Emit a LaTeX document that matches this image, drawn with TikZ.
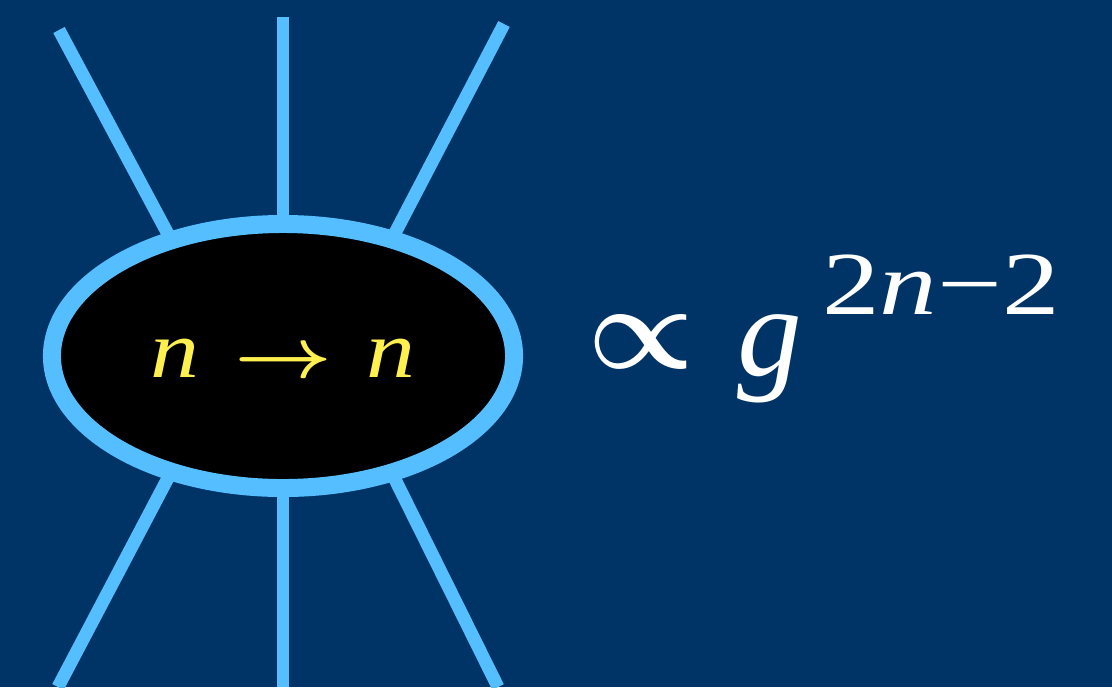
\RequirePackage{fix-cm}
\documentclass[tikz,border=0pt]{standalone}
\usepackage{amsmath}
\usepackage{fontspec}
\setmainfont{Liberation Serif}
\usepackage{graphicx}
\usetikzlibrary{shapes.geometric}
\definecolor{bgblue}{RGB}{0,51,102}
\definecolor{legblue}{RGB}{85,190,255}
\definecolor{labyellow}{RGB}{255,240,80}
\pgfdeclarelayer{bg}
\pgfsetlayers{bg,main}

\begin{document}
\begin{tikzpicture}[
  x=0.025cm, y=-0.025cm,
  leg/.style={draw=legblue, line width=9.2pt},
  blob/.style={ellipse, draw=legblue, fill=black, line width=12.8pt, inner sep=0pt, outer sep=0pt,
               minimum width=11.55cm, minimum height=6.6cm},
  lab/.style={text=labyellow, font=\fontsize{58}{64}\selectfont},
  formula/.style={text=white, inner sep=0pt, anchor=base west}
]
\useasboundingbox (0,0) rectangle (1112,687);
\node[blob] (blob) at (283,356) {};
\node[lab] (lab) at (283,358) {\scalebox{1.2}[1]{\textit{n}\hspace{0.35em}\scalebox{0.87}{$\boldsymbol{\to}$}\hspace{0.35em}\textit{n}}};
% free ends of the legs
\coordinate (tl) at (59,30);
\coordinate (tc) at (283,17);
\coordinate (tr) at (504,24);
\coordinate (bl) at (58,687);
\coordinate (bc) at (283,687);
\coordinate (br) at (498,687);
\begin{pgfonlayer}{bg}
\fill[bgblue] (0,0) rectangle (1112,687);
\draw[leg] (tl) -- (blob.134);
\draw[leg] (tc) -- (blob.north);
\draw[leg] (tr) -- (blob.47);
\draw[leg] (bl) -- (blob.226);
\draw[leg] (bc) -- (blob.south);
\draw[leg] (br) -- (blob.313);
\end{pgfonlayer}
% the coupling
\node[formula, font=\fontsize{85}{90}\selectfont] (prop) at (587,368) {$\boldsymbol{\propto}$};
\node[formula, font=\fontsize{92}{100}\selectfont] (g) at (737,375) {\textit{g}};
\node[formula, font=\fontsize{64}{70}\selectfont] (sup) at (822,314) {\scalebox{1.28}[1]{2\textit{n}−2}};
\end{tikzpicture}
\end{document}
